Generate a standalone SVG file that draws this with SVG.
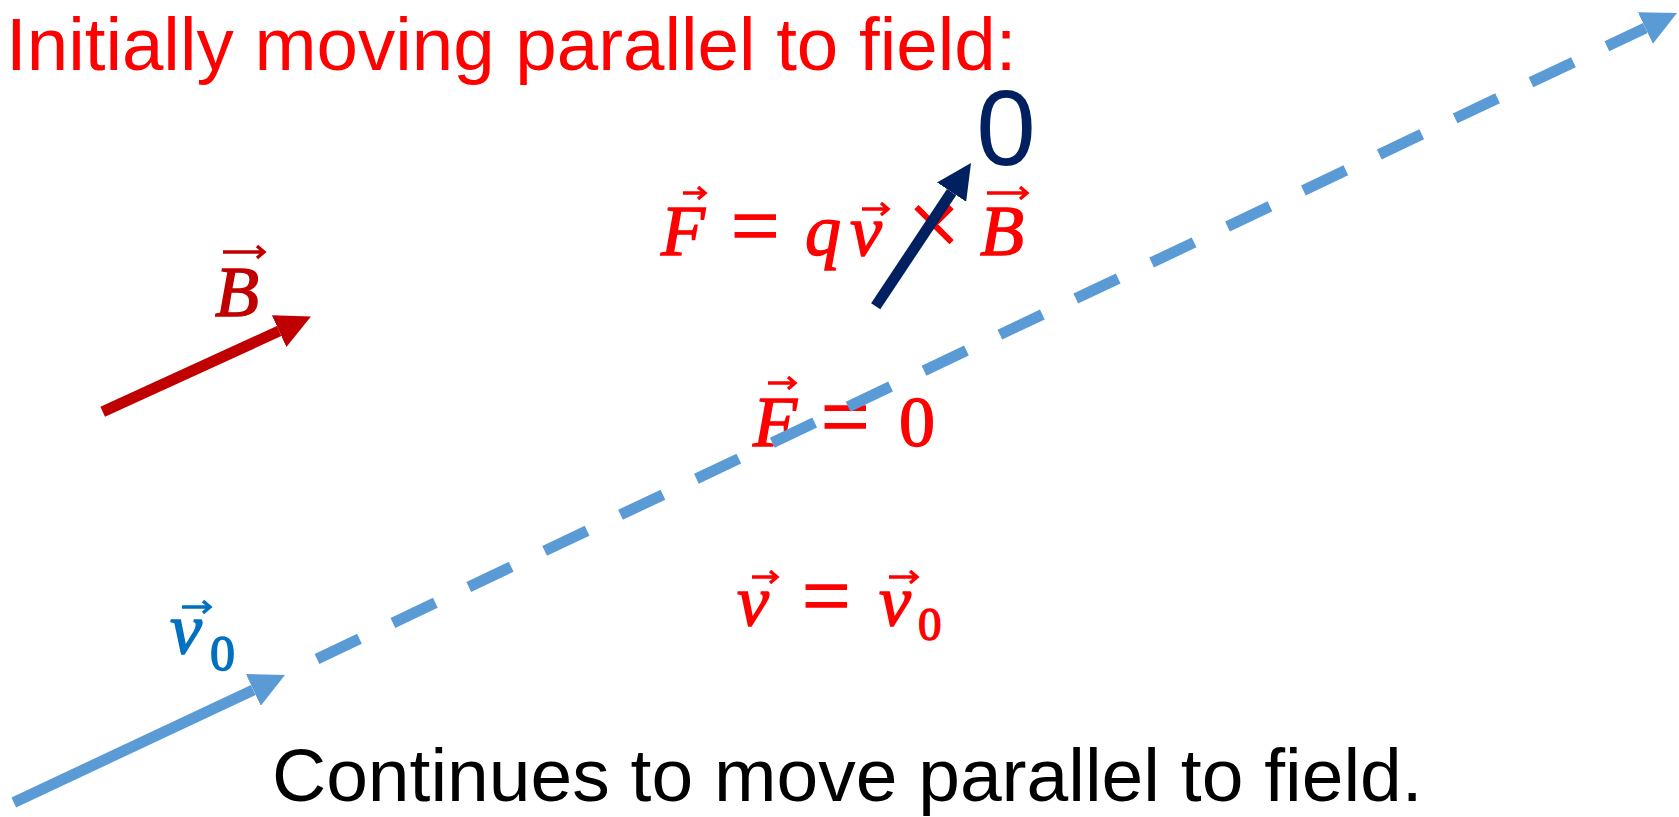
<svg xmlns="http://www.w3.org/2000/svg" width="1679" height="817" viewBox="0 0 1679 817">
<style>
.sans{font-family:"Liberation Sans",Arial,sans-serif}
.math{font-family:"Liberation Serif","Times New Roman",serif;font-style:italic;font-size:72px;stroke-width:1.4}
.up{font-style:normal}
.red{fill:#FF0000;stroke:#FF0000}
.vec{fill:none;stroke-width:3.4;stroke-linejoin:miter}
.vr{stroke:#FF0000}
</style>
<defs>
<marker id="hRed" viewBox="0 0 35 35" markerWidth="35" markerHeight="35" refX="0" refY="17.5" orient="auto" markerUnits="userSpaceOnUse"><path d="M0,0 L35,17.5 L0,35 z" fill="#C00000"/></marker>
<marker id="hNavy" viewBox="0 0 35 35" markerWidth="35" markerHeight="35" refX="0" refY="17.5" orient="auto" markerUnits="userSpaceOnUse"><path d="M0,0 L35,17.5 L0,35 z" fill="#002060"/></marker>
<marker id="hBlue" viewBox="0 0 35 35" markerWidth="35" markerHeight="35" refX="0" refY="17.5" orient="auto" markerUnits="userSpaceOnUse"><path d="M0,0 L35,17.5 L0,35 z" fill="#5B9BD5"/></marker>
</defs>
<rect width="1679" height="817" fill="#FFFFFF"/>

<g id="title">
<text class="sans" x="6" y="70" font-size="74.5" fill="#FF0000">Initially moving parallel to field:</text>
</g>

<g id="zero-label">
<text class="sans" x="1006" y="165" font-size="107" fill="#002060" text-anchor="middle">0</text>
</g>

<g id="eq-force">
<text class="math red" y="255"><tspan x="661">F</tspan><tspan class="up" x="731" font-size="86">=</tspan><tspan x="805">q</tspan><tspan x="850">v</tspan><tspan class="up" x="908" font-size="92">×</tspan><tspan x="980">B</tspan></text>
<path class="vec vr" d="M683,193 H705 M698,187 L705,193 L698,199"/>
<path class="vec vr" d="M862,209 H888 M881,203 L888,209 L881,215"/>
<path class="vec vr" d="M987,193 H1027 M1020,187 L1027,193 L1020,199"/>
</g>

<g id="b-label">
<text class="math" x="215" y="316" font-size="80" fill="#C00000" stroke="#C00000">B</text>
<path class="vec" stroke="#C00000" d="M223,252 H264 M257,246 L264,252 L257,258"/>
</g>

<g id="eq-zero">
<text class="math red" y="446"><tspan x="753">F</tspan><tspan class="up" x="821" font-size="86">=</tspan><tspan class="up" x="899">0</tspan></text>
<path class="vec vr" d="M768,383 H795 M788,377 L795,383 L788,389"/>
</g>

<g id="eq-velocity">
<text class="math red" y="625"><tspan x="737">v</tspan><tspan class="up" x="802" font-size="86">=</tspan><tspan x="879">v</tspan><tspan class="up" x="918" y="640" font-size="47">0</tspan></text>
<path class="vec vr" d="M752,577 H777 M770,571 L777,577 L770,583"/>
<path class="vec vr" d="M889,577 H917 M910,571 L917,577 L910,583"/>
</g>

<g id="v0-label">
<text class="math" y="653" font-size="70" fill="#0070C0" stroke="#0070C0"><tspan x="170">v</tspan><tspan class="up" x="210" y="670" font-size="50">0</tspan></text>
<path class="vec" stroke="#0070C0" d="M182,607 H210 M203,601 L210,607 L203,613"/>
</g>

<g id="footer">
<text class="sans" x="272" y="801" font-size="75" fill="#000000">Continues to move parallel to field.</text>
</g>

<g id="connectors" fill="none" stroke-width="11">
<line id="b-arrow" x1="102.7" y1="411.7" x2="279.1" y2="331.1" stroke="#C00000" marker-end="url(#hRed)"/>
<line id="v0-arrow" x1="13.8" y1="802.5" x2="253.3" y2="689.9" stroke="#5B9BD5" marker-end="url(#hBlue)"/>
<line id="path-dashed" x1="317" y1="659" x2="1645.4" y2="28" stroke="#5B9BD5" stroke-dasharray="47 37" marker-end="url(#hBlue)"/>
<line id="force-arrow" x1="875.7" y1="306.3" x2="951.6" y2="192.1" stroke="#002060" marker-end="url(#hNavy)"/>
</g>
</svg>
